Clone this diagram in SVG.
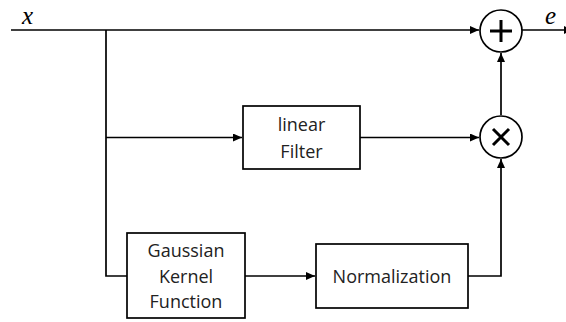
<svg xmlns="http://www.w3.org/2000/svg" width="566" height="322" viewBox="0 0 566 322">
<style>
.ln{stroke:#000;stroke-width:1.7;fill:none}
.bx{stroke:#000;stroke-width:1.7;fill:#fff}
.t{font-family:"Open Sans","Liberation Sans",sans-serif;font-size:18px;fill:#222;text-anchor:middle}
.m{font-family:"Liberation Serif",serif;font-style:italic;font-size:25px;fill:#000}
.op{stroke:#000;stroke-width:3;fill:none}
</style>
<defs>
<marker id="ah" markerWidth="10" markerHeight="8" refX="9" refY="4" orient="auto" markerUnits="userSpaceOnUse">
<path d="M0,0 L9,4 L0,8 Z" fill="#000"/>
</marker>
</defs>
<rect width="566" height="322" fill="#fff"/>
<g id="connectors">
<path class="ln" d="M11,30 H479" marker-end="url(#ah)"/>
<path class="ln" d="M522,30 H573" marker-end="url(#ah)"/>
<path class="ln" d="M106,30 V276 H127"/>
<path class="ln" d="M106,137.5 H242" marker-end="url(#ah)"/>
<path class="ln" d="M360,137.5 H479" marker-end="url(#ah)"/>
<path class="ln" d="M245,276 H315" marker-end="url(#ah)"/>
<path class="ln" d="M468,276 H501 V159" marker-end="url(#ah)"/>
<path class="ln" d="M501,115 V53" marker-end="url(#ah)"/>
</g>
<g id="label-x"><text class="m" x="22" y="24">x</text></g>
<g id="label-e"><text class="m" x="545" y="24">e</text></g>
<g id="sum">
<circle class="bx" cx="501" cy="31" r="21"/>
<path class="op" d="M490,31 H512 M501,20 V42"/>
</g>
<g id="product">
<circle class="bx" cx="501" cy="137" r="21"/>
<path class="op" d="M493,129 L509,145 M509,129 L493,145"/>
</g>
<g id="linear-filter">
<rect class="bx" x="243" y="106" width="117" height="63"/>
<text class="t" x="301.5" y="131">linear</text>
<text class="t" x="301.5" y="158">Filter</text>
</g>
<g id="gaussian-kernel">
<rect class="bx" x="127" y="233" width="118" height="85"/>
<text class="t" x="186" y="257">Gaussian</text>
<text class="t" x="186" y="283">Kernel</text>
<text class="t" x="186" y="308">Function</text>
</g>
<g id="normalization">
<rect class="bx" x="316" y="244" width="152" height="64"/>
<text class="t" x="392" y="283">Normalization</text>
</g>
</svg>
